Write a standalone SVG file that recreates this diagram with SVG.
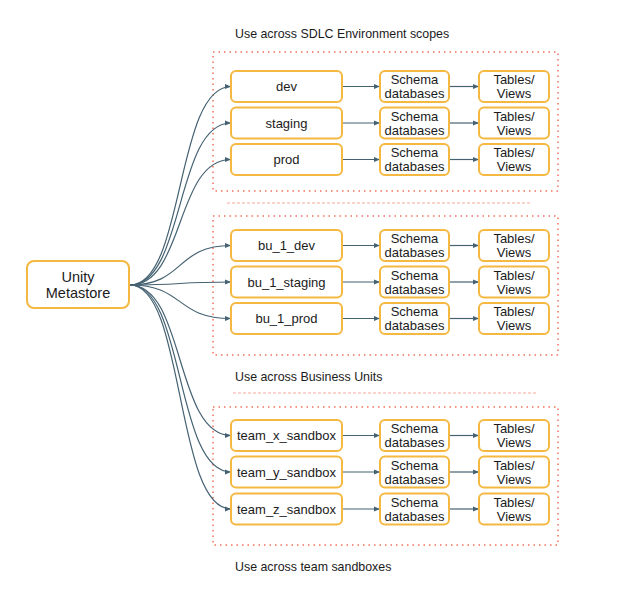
<svg xmlns="http://www.w3.org/2000/svg" width="640" height="593" viewBox="0 0 640 593">
<style>
.box{fill:#fff;stroke:#F5B840;stroke-width:2}
.t{font-family:"Liberation Sans",Arial,sans-serif;font-size:13px;fill:#1b1b1b;text-anchor:middle}
.big{font-size:14.5px}
.lbl{font-family:"Liberation Sans",Arial,sans-serif;font-size:12.4px;fill:#1b1b1b}
.zone{fill:none;stroke:#F2705E;stroke-width:1.5;stroke-dasharray:1.5 4}
.sep{fill:none;stroke:#F6A89C;stroke-width:1;stroke-dasharray:3 2}
.c{fill:none;stroke:#456272;stroke-width:1.2}
</style>
<defs>
<marker id="ah" viewBox="0 0 10 10" refX="10" refY="5" markerWidth="6" markerHeight="6" orient="auto" markerUnits="userSpaceOnUse">
<path d="M0,1 L10,5 L0,9 z" fill="#456272"/>
</marker>
</defs>
<rect width="640" height="593" fill="#fff"/>

<g id="zones">
<rect class="zone" x="213" y="52" width="345" height="139"/>
<rect class="zone" x="213" y="216" width="345" height="139"/>
<rect class="zone" x="213" y="407" width="345" height="138"/>
<line class="sep" x1="227" y1="203" x2="530" y2="203"/>
<line class="sep" x1="233" y1="393" x2="536" y2="393"/>
<text class="lbl" x="235" y="38">Use across SDLC Environment scopes</text>
<text class="lbl" x="235" y="381">Use across Business Units</text>
<text class="lbl" x="235" y="571">Use across team sandboxes</text>
</g>

<g id="connectors">
<path class="c" marker-end="url(#ah)" d="M130,285 C185,285 175,86.5 231,86.5"/>
<path class="c" marker-end="url(#ah)" d="M130,285 C185,285 175,123 231,123"/>
<path class="c" marker-end="url(#ah)" d="M130,285 C185,285 175,159.5 231,159.5"/>
<path class="c" marker-end="url(#ah)" d="M130,285 C185,285 175,245.5 231,245.5"/>
<path class="c" marker-end="url(#ah)" d="M130,285 C185,285 175,282 231,282"/>
<path class="c" marker-end="url(#ah)" d="M130,285 C185,285 175,318.5 231,318.5"/>
<path class="c" marker-end="url(#ah)" d="M130,285 C185,285 175,435.5 231,435.5"/>
<path class="c" marker-end="url(#ah)" d="M130,285 C185,285 175,472 231,472"/>
<path class="c" marker-end="url(#ah)" d="M130,285 C185,285 175,509 231,509"/>

<path class="c" marker-end="url(#ah)" d="M342,86.5 H380"/>
<path class="c" marker-end="url(#ah)" d="M449,86.5 H479"/>
<path class="c" marker-end="url(#ah)" d="M342,123 H380"/>
<path class="c" marker-end="url(#ah)" d="M449,123 H479"/>
<path class="c" marker-end="url(#ah)" d="M342,159.5 H380"/>
<path class="c" marker-end="url(#ah)" d="M449,159.5 H479"/>
<path class="c" marker-end="url(#ah)" d="M342,245.5 H380"/>
<path class="c" marker-end="url(#ah)" d="M449,245.5 H479"/>
<path class="c" marker-end="url(#ah)" d="M342,282 H380"/>
<path class="c" marker-end="url(#ah)" d="M449,282 H479"/>
<path class="c" marker-end="url(#ah)" d="M342,318.5 H380"/>
<path class="c" marker-end="url(#ah)" d="M449,318.5 H479"/>
<path class="c" marker-end="url(#ah)" d="M342,435.5 H380"/>
<path class="c" marker-end="url(#ah)" d="M449,435.5 H479"/>
<path class="c" marker-end="url(#ah)" d="M342,472 H380"/>
<path class="c" marker-end="url(#ah)" d="M449,472 H479"/>
<path class="c" marker-end="url(#ah)" d="M342,509 H380"/>
<path class="c" marker-end="url(#ah)" d="M449,509 H479"/>
</g>

<g id="unity"><rect class="box" x="27" y="261" width="102" height="47" rx="7"/><text class="t big" x="78" y="282">Unity</text><text class="t big" x="78" y="298">Metastore</text></g>

<g id="dev"><rect class="box" x="231" y="71" width="111" height="31" rx="5"/><text class="t" x="286.5" y="91">dev</text></g>
<g id="staging"><rect class="box" x="231" y="107.5" width="111" height="31" rx="5"/><text class="t" x="286.5" y="127.5">staging</text></g>
<g id="prod"><rect class="box" x="231" y="144" width="111" height="31" rx="5"/><text class="t" x="286.5" y="164">prod</text></g>
<g id="bu_1_dev"><rect class="box" x="231" y="230" width="111" height="31" rx="5"/><text class="t" x="286.5" y="250">bu_1_dev</text></g>
<g id="bu_1_staging"><rect class="box" x="231" y="266.5" width="111" height="31" rx="5"/><text class="t" x="286.5" y="286.5">bu_1_staging</text></g>
<g id="bu_1_prod"><rect class="box" x="231" y="303" width="111" height="31" rx="5"/><text class="t" x="286.5" y="323">bu_1_prod</text></g>
<g id="team_x_sandbox"><rect class="box" x="231" y="420" width="111" height="31" rx="5"/><text class="t" x="286.5" y="440">team_x_sandbox</text></g>
<g id="team_y_sandbox"><rect class="box" x="231" y="456.5" width="111" height="31" rx="5"/><text class="t" x="286.5" y="476.5">team_y_sandbox</text></g>
<g id="team_z_sandbox"><rect class="box" x="231" y="493.5" width="111" height="31" rx="5"/><text class="t" x="286.5" y="513.5">team_z_sandbox</text></g>

<g id="schema1"><rect class="box" x="380" y="71" width="69" height="31" rx="5"/><text class="t" x="414.5" y="84">Schema</text><text class="t" x="414.5" y="98">databases</text></g>
<g id="schema2"><rect class="box" x="380" y="107.5" width="69" height="31" rx="5"/><text class="t" x="414.5" y="120.5">Schema</text><text class="t" x="414.5" y="134.5">databases</text></g>
<g id="schema3"><rect class="box" x="380" y="144" width="69" height="31" rx="5"/><text class="t" x="414.5" y="157">Schema</text><text class="t" x="414.5" y="171">databases</text></g>
<g id="schema4"><rect class="box" x="380" y="230" width="69" height="31" rx="5"/><text class="t" x="414.5" y="243">Schema</text><text class="t" x="414.5" y="257">databases</text></g>
<g id="schema5"><rect class="box" x="380" y="266.5" width="69" height="31" rx="5"/><text class="t" x="414.5" y="279.5">Schema</text><text class="t" x="414.5" y="293.5">databases</text></g>
<g id="schema6"><rect class="box" x="380" y="303" width="69" height="31" rx="5"/><text class="t" x="414.5" y="316">Schema</text><text class="t" x="414.5" y="330">databases</text></g>
<g id="schema7"><rect class="box" x="380" y="420" width="69" height="31" rx="5"/><text class="t" x="414.5" y="433">Schema</text><text class="t" x="414.5" y="447">databases</text></g>
<g id="schema8"><rect class="box" x="380" y="456.5" width="69" height="31" rx="5"/><text class="t" x="414.5" y="469.5">Schema</text><text class="t" x="414.5" y="483.5">databases</text></g>
<g id="schema9"><rect class="box" x="380" y="493.5" width="69" height="31" rx="5"/><text class="t" x="414.5" y="506.5">Schema</text><text class="t" x="414.5" y="520.5">databases</text></g>

<g id="tables1"><rect class="box" x="479" y="71" width="70" height="31" rx="5"/><text class="t" x="514" y="84">Tables/</text><text class="t" x="514" y="98">Views</text></g>
<g id="tables2"><rect class="box" x="479" y="107.5" width="70" height="31" rx="5"/><text class="t" x="514" y="120.5">Tables/</text><text class="t" x="514" y="134.5">Views</text></g>
<g id="tables3"><rect class="box" x="479" y="144" width="70" height="31" rx="5"/><text class="t" x="514" y="157">Tables/</text><text class="t" x="514" y="171">Views</text></g>
<g id="tables4"><rect class="box" x="479" y="230" width="70" height="31" rx="5"/><text class="t" x="514" y="243">Tables/</text><text class="t" x="514" y="257">Views</text></g>
<g id="tables5"><rect class="box" x="479" y="266.5" width="70" height="31" rx="5"/><text class="t" x="514" y="279.5">Tables/</text><text class="t" x="514" y="293.5">Views</text></g>
<g id="tables6"><rect class="box" x="479" y="303" width="70" height="31" rx="5"/><text class="t" x="514" y="316">Tables/</text><text class="t" x="514" y="330">Views</text></g>
<g id="tables7"><rect class="box" x="479" y="420" width="70" height="31" rx="5"/><text class="t" x="514" y="433">Tables/</text><text class="t" x="514" y="447">Views</text></g>
<g id="tables8"><rect class="box" x="479" y="456.5" width="70" height="31" rx="5"/><text class="t" x="514" y="469.5">Tables/</text><text class="t" x="514" y="483.5">Views</text></g>
<g id="tables9"><rect class="box" x="479" y="493.5" width="70" height="31" rx="5"/><text class="t" x="514" y="506.5">Tables/</text><text class="t" x="514" y="520.5">Views</text></g>
</svg>
